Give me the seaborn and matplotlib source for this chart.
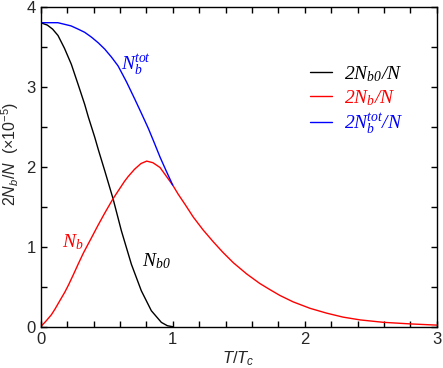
import matplotlib
matplotlib.use("Agg")
import matplotlib.pyplot as plt
import seaborn as sns
import pandas as pd
from matplotlib.ticker import MultipleLocator

# values (T/Tc, 2N/N x 1e-5)
t_b0 = [0.0, 0.05, 0.09, 0.131, 0.18, 0.232, 0.285, 0.333, 0.361, 0.409, 0.437, 0.485,
        0.548, 0.611, 0.687, 0.762, 0.838, 0.914, 0.96, 1.0]
n_b0 = [3.80, 3.77, 3.72, 3.64, 3.48, 3.28, 3.02, 2.78, 2.62, 2.37, 2.21, 1.95,
        1.60, 1.20, 0.78, 0.45, 0.20, 0.054, 0.012, 0.0]

t_b = [0.0, 0.04, 0.081, 0.108, 0.15, 0.182, 0.21, 0.25, 0.283, 0.323, 0.384, 0.435,
       0.485, 0.548, 0.60, 0.636, 0.664, 0.712, 0.76, 0.803, 0.85, 0.904, 0.939, 1.0,
       1.04, 1.093, 1.156, 1.23, 1.308, 1.38, 1.459, 1.56, 1.66, 1.74, 1.813, 1.913,
       2.04, 2.165, 2.29, 2.42, 2.595, 2.80, 3.0]
n_b = [0.0, 0.07, 0.15, 0.22, 0.34, 0.43, 0.52, 0.66, 0.78, 0.92, 1.11, 1.27,
       1.42, 1.60, 1.73, 1.82, 1.88, 1.97, 2.04, 2.07, 2.05, 1.99, 1.91, 1.77,
       1.66, 1.53, 1.37, 1.21, 1.06, 0.93, 0.80, 0.66, 0.54, 0.46, 0.39, 0.31,
       0.23, 0.17, 0.12, 0.085, 0.055, 0.035, 0.02]

t_tot = [0.0, 0.06, 0.13, 0.18, 0.23, 0.283, 0.333, 0.384, 0.435, 0.485, 0.536, 0.586,
         0.65, 0.714, 0.765, 0.815, 0.86, 0.904, 0.95, 1.0]
n_tot = [3.80, 3.80, 3.80, 3.78, 3.76, 3.72, 3.68, 3.62, 3.55, 3.47, 3.37, 3.26,
         3.06, 2.84, 2.66, 2.48, 2.30, 2.12, 1.95, 1.77]

sns.set_style("ticks")
plt.rcParams['font.family'] = ['Liberation Sans', 'DejaVu Sans']
plt.rcParams['mathtext.fontset'] = 'custom'
plt.rcParams['mathtext.rm'] = 'Liberation Sans'
plt.rcParams['mathtext.it'] = 'Liberation Sans:italic'

df_b0 = pd.DataFrame({'T': t_b0, 'N': n_b0})
df_b = pd.DataFrame({'T': t_b, 'N': n_b})
df_tot = pd.DataFrame({'T': t_tot, 'N': n_tot})

fig = plt.figure(figsize=(4.43, 3.68), dpi=100)
ax = fig.add_axes([0.0919, 0.1122, 0.8939, 0.8696])

sns.lineplot(data=df_b0, x='T', y='N', color='black', lw=1, ax=ax,
             label=r'$\mathregular{2N_{b0}/N}$')
sns.lineplot(data=df_b, x='T', y='N', color='red', lw=1, ax=ax,
             label=r'$\mathregular{2N_b/N}$')
sns.lineplot(data=df_tot, x='T', y='N', color='blue', lw=1, ax=ax,
             label=r'$\mathregular{2N_b^{tot}/N}$')

ax.set_xlim(0, 3)
ax.set_ylim(0, 4)
ax.xaxis.set_major_locator(MultipleLocator(1))
ax.xaxis.set_minor_locator(MultipleLocator(0.2))
ax.yaxis.set_major_locator(MultipleLocator(1))
ax.yaxis.set_minor_locator(MultipleLocator(0.5))
ax.tick_params(which='both', direction='in', top=True, right=True, length=4, width=1,
               labelsize=12, color='black')
for s in ax.spines.values():
    s.set_linewidth(1)
    s.set_color('black')

ax.set_xlabel('$T$/$T_c$', fontsize=12, labelpad=2)
ax.set_ylabel('2$N_b$/$N$  (×10$^{-5}$)', fontsize=11.5, labelpad=2)
ax.yaxis.set_label_coords(-0.05, 0.54)

serif = dict(family='Liberation Serif', style='italic', size=14)
ax.text(0.725, 3.28, r'$\mathregular{N_b^{tot}}$', color='blue', ha='center', va='center', **serif)
ax.text(0.245, 1.06, r'$\mathregular{N_b}$', color='red', ha='center', va='center', **serif)
ax.text(0.873, 0.82, r'$\mathregular{N_{b0}}$', color='black', ha='center', va='center', **serif)

leg = ax.legend(loc='upper left', bbox_to_anchor=(0.68, 0.82), frameon=False,
                handlelength=1.15, handletextpad=0.6, labelspacing=0.2,
                borderpad=0, borderaxespad=0,
                prop={'family': 'Liberation Serif', 'style': 'italic', 'size': 14})
for txt, c in zip(leg.get_texts(), ['black', 'red', 'blue']):
    txt.set_color(c)

fig.savefig('out.png', dpi=100)
